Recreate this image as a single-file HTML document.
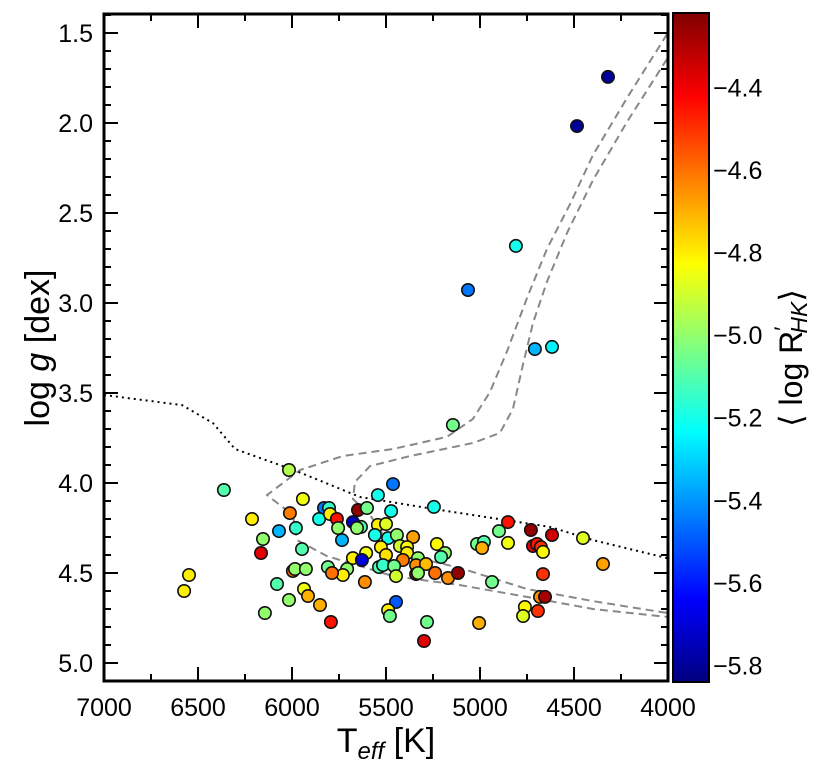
<!DOCTYPE html>
<html><head><meta charset="utf-8">
<style>
html,body{margin:0;padding:0;background:#fff;}
svg{display:block;font-family:"Liberation Sans",sans-serif;}
</style></head>
<body>
<svg id="chart" width="830" height="774" viewBox="0 0 830 774" xmlns="http://www.w3.org/2000/svg">
<defs>
<linearGradient id="jetgrad" x1="0" y1="1" x2="0" y2="0"></linearGradient>
<clipPath id="plotclip"><rect x="104" y="14" width="564" height="667"/></clipPath>
</defs>
<g id="lines" clip-path="url(#plotclip)"></g>
<g id="points"></g>
<g id="axes"></g>
<rect x="673" y="13" width="36" height="669" fill="url(#jetgrad)" stroke="#000" stroke-width="2"/>
<g id="cbticks"></g>
<text x="386" y="752" font-size="34" text-anchor="middle">T<tspan font-size="24" font-style="italic" dy="7">eff</tspan><tspan dy="-7"> [K]</tspan></text>
<text transform="translate(49,348) rotate(-90)" font-size="34" text-anchor="middle">log <tspan font-style="italic">g</tspan> [dex]</text>
<text transform="translate(802,358) rotate(-90)" font-size="32" text-anchor="middle">⟨ log R<tspan font-size="22" dy="-12">′</tspan><tspan font-size="23" font-style="italic" dy="17" dx="-7">HK</tspan><tspan dy="-5">⟩</tspan></text>
</svg>
<script>
const teff=[6016,5942,6213,6011,6069,5979,6154,6165,5947,5830,5803,5856,5798,5761,5755,5734,5649,5601,5676,5633,5654,5543,5463,5473,5543,5500,5559,5489,5442,5356,5426,5388,5527,5500,5388,5229,5186,5207,5606,5676,5628,5410,5330,5340,5287,5537,5516,5457,5447,5340,5330,5239,5170,5117,5809,5707,5729,5787,5995,5984,5926,5612,6080,5936,5915,6016,5851,6144,5793,5447,5489,5479,5282,5298,6362,6548,6574,5144,4851,4899,4851,4729,4617,4452,5016,4979,4989,4718,4697,4676,4665,4346,4936,4665,4681,4654,4761,4771,4692,5005,4319,4484,5064,4809,4708,4617,5245];
const logg=[3.928,4.089,4.200,4.167,4.267,4.250,4.311,4.389,4.367,4.139,4.139,4.200,4.172,4.200,4.250,4.317,4.150,4.139,4.217,4.244,4.250,4.067,4.006,4.156,4.233,4.228,4.289,4.306,4.289,4.300,4.350,4.356,4.356,4.400,4.389,4.339,4.389,4.411,4.389,4.417,4.428,4.428,4.417,4.456,4.450,4.467,4.456,4.461,4.517,4.506,4.500,4.500,4.528,4.500,4.467,4.478,4.511,4.500,4.489,4.478,4.478,4.550,4.561,4.589,4.628,4.650,4.678,4.722,4.772,4.661,4.706,4.739,4.772,4.878,4.039,4.511,4.600,3.678,4.217,4.267,4.333,4.261,4.289,4.306,4.339,4.328,4.361,4.350,4.339,4.356,4.383,4.450,4.550,4.506,4.633,4.633,4.689,4.739,4.711,4.778,1.744,2.017,2.928,2.683,3.256,3.244,4.133];
const rhk=[-4.95,-4.85,-4.80,-4.62,-5.35,-5.15,-5.00,-4.38,-5.10,-5.45,-5.15,-5.20,-4.80,-4.45,-5.00,-5.35,-4.25,-5.05,-5.75,-5.10,-5.00,-5.20,-5.45,-5.20,-4.80,-4.88,-5.20,-5.20,-5.00,-4.68,-4.90,-4.82,-4.80,-4.78,-4.80,-4.82,-5.00,-5.10,-4.85,-4.80,-5.70,-4.62,-5.00,-4.65,-4.72,-5.10,-5.15,-5.05,-4.90,-4.30,-5.00,-4.60,-4.65,-4.25,-5.05,-5.00,-4.80,-4.60,-4.60,-5.00,-5.00,-4.65,-5.10,-4.85,-4.70,-5.00,-4.70,-5.00,-4.45,-5.50,-4.80,-5.05,-5.05,-4.38,-5.10,-4.80,-4.80,-5.05,-4.45,-5.05,-4.85,-4.25,-4.35,-4.88,-5.05,-5.10,-4.70,-4.38,-4.45,-4.50,-4.82,-4.68,-5.05,-4.50,-4.65,-4.28,-4.82,-4.88,-4.50,-4.70,-5.80,-5.80,-5.45,-5.20,-5.35,-5.25,-5.20];
const track1T=[4005,4218,4399,4521,4644,4750,4856,4947,5037,5176,5463,5729,5957,6133,5995,5973,5814,5463,5106,4750,4399,4005];
const track1G=[1.506,1.861,2.178,2.450,2.700,2.972,3.267,3.494,3.644,3.744,3.811,3.850,3.928,4.067,4.178,4.317,4.406,4.517,4.567,4.633,4.700,4.744];
const track2T=[4005,4218,4399,4537,4644,4718,4771,4825,4894,5037,5372,5585,5665,5676,5585,5495,5372,5106,4750,4399,4005];
const track2G=[1.644,1.994,2.317,2.611,2.883,3.111,3.339,3.589,3.722,3.778,3.850,3.906,3.994,4.089,4.178,4.317,4.406,4.472,4.589,4.656,4.722];
const dotT=[7000,6585,6420,6303,6170,5990,5638,5250,4628,4399,4005];
const dotG=[3.511,3.567,3.667,3.811,3.861,3.928,4.078,4.144,4.244,4.317,4.417];
const xTicks=[7000,6500,6000,5500,5000,4500,4000];
const yTicks=[1.5,2.0,2.5,3.0,3.5,4.0,4.5,5.0];
const cbTicks=[-4.4,-4.6,-4.8,-5.0,-5.2,-5.4,-5.6,-5.8];

const NS='http://www.w3.org/2000/svg';
const X0=104,X1=668,Y0=14,Y1=681;
const xs=t=>X0+(7000-t)/3000*(X1-X0);
const ys=g=>483+(g-4)*180;
const cMin=-5.84,cMax=-4.22;
const cy=v=>682-(v-cMin)/(cMax-cMin)*669;
function jet(t){t=Math.max(0,Math.min(1,t));
 const f=(a)=>Math.max(0,Math.min(1,a));
 const r=f(1.5-Math.abs(4*t-3)), g=f(1.5-Math.abs(4*t-2)), b=f(1.5-Math.abs(4*t-1));
 return `rgb(${Math.round(r*255)},${Math.round(g*255)},${Math.round(b*255)})`;}
const colorOf=v=>jet((v-cMin)/(cMax-cMin));
function mk(tag,attrs,parent){const e=document.createElementNS(NS,tag);for(const k in attrs)e.setAttribute(k,attrs[k]);parent.appendChild(e);return e;}

const grad=document.getElementById('jetgrad');
for(let i=0;i<=40;i++){mk('stop',{offset:(i/40),'stop-color':jet(i/40)},grad);}

const lg=document.getElementById('lines');
function poly(T,G,dash,color,w,name){
 const p=mk('polyline',{points:T.map((t,i)=>xs(t).toFixed(1)+','+ys(G[i]).toFixed(1)).join(' '),fill:'none',stroke:color,'stroke-width':w,'stroke-dasharray':dash,'stroke-linejoin':'round'},lg);
 
 
}
poly(track1T,track1G,'8,5','#888',2,'isochrone-track-1');
poly(track2T,track2G,'8,5','#888',2,'isochrone-track-2');
poly(dotT,dotG,'2,4','#000',2,'dotted-boundary-line');

const pg=document.getElementById('points');
for(let i=0;i<teff.length;i++){
 const c=mk('circle',{cx:xs(teff[i]).toFixed(1),cy:ys(logg[i]).toFixed(1),r:6.2,fill:colorOf(rhk[i]),stroke:'#111','stroke-width':1.6},pg);
 
 
}

const ag=document.getElementById('axes');
const fr=mk('rect',{x:X0,y:Y0,width:X1-X0,height:Y1-Y0,fill:'none',stroke:'#000','stroke-width':3},ag);


for(let t=4000;t<=7000;t+=250){
 const major=(t%500===0), L=major?14:7, x=xs(t);
 mk('line',{x1:x,y1:Y1,x2:x,y2:Y1-L,stroke:'#000','stroke-width':2},ag);
 mk('line',{x1:x,y1:Y0,x2:x,y2:Y0+L,stroke:'#000','stroke-width':2},ag);
}
for(let k=14;k<=51;k++){
 const g=k/10, major=(k%5===0), L=major?14:7, y=ys(g);
 if(y<Y0||y>Y1)continue;
 mk('line',{x1:X0,y1:y,x2:X0+L,y2:y,stroke:'#000','stroke-width':2},ag);
 mk('line',{x1:X1,y1:y,x2:X1-L,y2:y,stroke:'#000','stroke-width':2},ag);
}
xTicks.forEach(t=>{
 const e=mk('text',{x:xs(t),y:716,'font-size':25,'text-anchor':'middle'},ag);e.textContent=t;
 
 
});
yTicks.forEach(g=>{
 const e=mk('text',{x:93,y:ys(g)+9,'font-size':25,'text-anchor':'end'},ag);e.textContent=g.toFixed(1);
 
 
});
const cg=document.getElementById('cbticks');
cbTicks.forEach(v=>{
 const e=mk('text',{x:713,y:cy(v)+9,'font-size':25},cg);e.textContent='\u2212'+Math.abs(v).toFixed(1);
 
 
});
</script>
</body></html>
